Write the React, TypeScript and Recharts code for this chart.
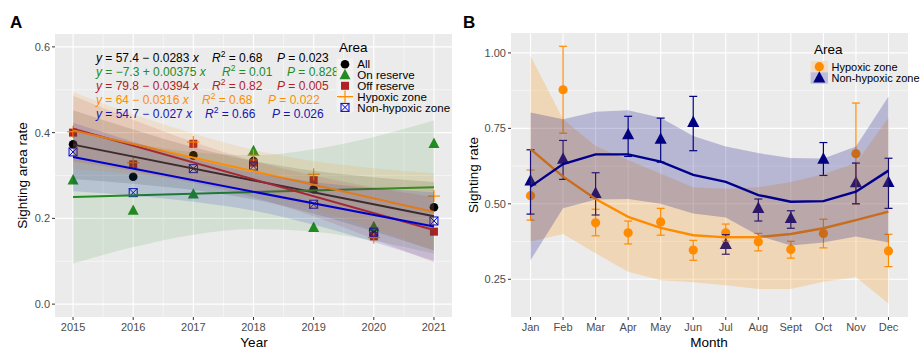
import React from 'react';
import { ComposedChart, Scatter, Line, Area, XAxis, YAxis, CartesianGrid, ErrorBar } from 'recharts';

// ---------- Panel A data ----------
const years = [2015, 2016, 2017, 2018, 2019, 2020, 2021];
const yearTicks = [2015, 2016, 2017, 2018, 2019, 2020, 2021];
const yearMinor = [2015.5, 2016.5, 2017.5, 2018.5, 2019.5, 2020.5];
const rateTicksA = [0, 0.2, 0.4, 0.6];
const rateMinorA = [0.1, 0.3, 0.5];

const allRate = [0.373, 0.297, 0.347, 0.334, 0.268, 0.161, 0.226];
const onRate = [0.289, 0.218, 0.256, 0.357, 0.178, 0.18, 0.374];
const offRate = [0.4, 0.326, 0.374, 0.33, 0.289, 0.158, 0.169];
const hypRate = [0.402, 0.33, 0.378, 0.347, 0.303, 0.155, 0.252];
const nonRate = [0.355, 0.26, 0.316, 0.322, 0.233, 0.168, 0.194];

const fitYears = [2015, 2021];
const allFit = [0.372, 0.205];
const onFit = [0.25, 0.2725];
const offFit = [0.409, 0.173];
const hypFit = [0.405, 0.215];
const nonFit = [0.343, 0.181];

const allLo = [0.292, 0.281, 0.266, 0.244, 0.211, 0.17, 0.125];
const allHi = [0.452, 0.407, 0.366, 0.334, 0.311, 0.296, 0.285];
const onLo = [0.095, 0.133, 0.162, 0.175, 0.169, 0.148, 0.118];
const onHi = [0.405, 0.375, 0.354, 0.347, 0.361, 0.39, 0.428];
const offLo = [0.333, 0.31, 0.283, 0.249, 0.205, 0.152, 0.097];
const offHi = [0.486, 0.43, 0.378, 0.334, 0.3, 0.272, 0.25];
const hypLo = [0.315, 0.303, 0.286, 0.26, 0.222, 0.177, 0.125];
const hypHi = [0.495, 0.443, 0.398, 0.36, 0.334, 0.317, 0.305];
const nonLo = [0.263, 0.253, 0.239, 0.218, 0.185, 0.145, 0.101];
const nonHi = [0.423, 0.379, 0.339, 0.307, 0.285, 0.271, 0.261];

// ---------- Panel B data ----------
const months = [1, 2, 3, 4, 5, 6, 7, 8, 9, 10, 11, 12];
const monthLabels = ['Jan', 'Feb', 'Mar', 'Apr', 'May', 'Jun', 'Jul', 'Aug', 'Sept', 'Oct', 'Nov', 'Dec'];
const rateTicksB = [0.25, 0.5, 0.75, 1.0];
const rateMinorB = [0.375, 0.625, 0.875];

const hypMean = [0.527, 0.878, 0.437, 0.404, 0.44, 0.347, 0.404, 0.374, 0.349, 0.402, 0.666, 0.344];
const hypErrLo = [0.446, 0.734, 0.394, 0.367, 0.396, 0.313, 0.376, 0.344, 0.32, 0.354, 0.5, 0.292];
const hypErrHi = [0.612, 1.022, 0.482, 0.443, 0.485, 0.379, 0.433, 0.402, 0.376, 0.449, 0.834, 0.399];
const nonMean = [0.576, 0.648, 0.535, 0.729, 0.714, 0.77, 0.366, 0.485, 0.452, 0.648, 0.57, 0.571];
const nonErrLo = [0.466, 0.581, 0.463, 0.657, 0.638, 0.676, 0.333, 0.443, 0.419, 0.594, 0.5, 0.485];
const nonErrHi = [0.679, 0.71, 0.603, 0.79, 0.784, 0.856, 0.398, 0.516, 0.477, 0.703, 0.635, 0.651];

const hypSmooth = [0.681, 0.59, 0.516, 0.457, 0.42, 0.396, 0.389, 0.39, 0.4, 0.419, 0.446, 0.474];
const nonSmooth = [0.557, 0.632, 0.664, 0.664, 0.64, 0.596, 0.573, 0.529, 0.507, 0.509, 0.54, 0.61];
const hypBandLo = [0.375, 0.4, 0.336, 0.275, 0.247, 0.24, 0.23, 0.218, 0.218, 0.242, 0.257, 0.17];
const hypBandHi = [0.99, 0.78, 0.692, 0.645, 0.6, 0.555, 0.55, 0.555, 0.572, 0.598, 0.635, 0.785];
const nonBandLo = [0.313, 0.485, 0.514, 0.516, 0.5, 0.468, 0.455, 0.395, 0.362, 0.372, 0.392, 0.372];
const nonBandHi = [0.803, 0.78, 0.805, 0.81, 0.785, 0.725, 0.69, 0.668, 0.652, 0.65, 0.69, 0.856];

// ---------- colours ----------
const C_ALL = '#000000';
const C_ON = '#228B22';
const C_OFF = '#B22222';
const C_HYP = '#FF8C00';
const C_NON = '#0000CD';
const C_NAVY = '#000080';

const fitAt = (arr: number[], year: number) =>
  year === fitYears[0] ? arr[0] : year === fitYears[1] ? arr[1] : null;

const tableA = years.map((year, i) => ({
  year,
  all: allRate[i],
  on: onRate[i],
  off: offRate[i],
  hyp: hypRate[i],
  non: nonRate[i],
  allBand: [allLo[i], allHi[i]],
  onBand: [onLo[i], onHi[i]],
  offBand: [offLo[i], offHi[i]],
  hypBand: [hypLo[i], hypHi[i]],
  nonBand: [nonLo[i], nonHi[i]],
  allFit: fitAt(allFit, year),
  onFit: fitAt(onFit, year),
  offFit: fitAt(offFit, year),
  hypFit: fitAt(hypFit, year),
  nonFit: fitAt(nonFit, year),
}));

const tableB = months.map((m, i) => ({
  m,
  hyp: hypMean[i],
  hypErr: [hypMean[i] - hypErrLo[i], hypErrHi[i] - hypMean[i]],
  non: nonMean[i],
  nonErr: [nonMean[i] - nonErrLo[i], nonErrHi[i] - nonMean[i]],
  hypS: hypSmooth[i],
  nonS: nonSmooth[i],
  hypBand: [hypBandLo[i], hypBandHi[i]],
  nonBand: [nonBandLo[i], nonBandHi[i]],
}));

// ---------- shapes ----------
const ok = (p: any) => typeof p.cx === 'number' && typeof p.cy === 'number' && !isNaN(p.cx) && !isNaN(p.cy);
const circleShape = (color: string, r: number) => (p: any) =>
  ok(p) ? <circle cx={p.cx} cy={p.cy} r={r} fill={color} /> : <g />;
const triShape = (color: string, s: number) => (p: any) =>
  ok(p) ? (
    <polygon
      points={`${p.cx},${p.cy - s * 0.62} ${p.cx - s * 0.55},${p.cy + s * 0.42} ${p.cx + s * 0.55},${p.cy + s * 0.42}`}
      fill={color}
    />
  ) : <g />;
const squareShape = (color: string, s: number) => (p: any) =>
  ok(p) ? <rect x={p.cx - s / 2} y={p.cy - s / 2} width={s} height={s} fill={color} /> : <g />;
const plusShape = (color: string, s: number) => (p: any) =>
  ok(p) ? (
    <g stroke={color} strokeWidth={1.2}>
      <line x1={p.cx - s / 2} y1={p.cy} x2={p.cx + s / 2} y2={p.cy} />
      <line x1={p.cx} y1={p.cy - s / 2} x2={p.cx} y2={p.cy + s / 2} />
    </g>
  ) : <g />;
const boxXShape = (color: string, s: number) => (p: any) =>
  ok(p) ? (
    <g stroke={color} strokeWidth={1} fill="none">
      <rect x={p.cx - s / 2} y={p.cy - s / 2} width={s} height={s} />
      <line x1={p.cx - s / 2} y1={p.cy - s / 2} x2={p.cx + s / 2} y2={p.cy + s / 2} />
      <line x1={p.cx - s / 2} y1={p.cy + s / 2} x2={p.cx + s / 2} y2={p.cy - s / 2} />
    </g>
  ) : <g />;

const tickStyle = { fill: '#4D4D4D', fontSize: 11 };
const FONT = '"Liberation Sans", Arial, Helvetica, sans-serif';

function PanelA() {
  const bandOp = 0.12;
  const z: any = (n: number) => ({ zIndex: n });
  return (
    <ComposedChart width={460} height={350} data={tableA} margin={{ top: 34, right: 8, bottom: 8, left: 10 }}>
      <CartesianGrid horizontalValues={rateMinorA} verticalValues={yearMinor} stroke="#FFFFFF" strokeWidth={0.5} fill="#EBEBEB" />
      <CartesianGrid horizontalValues={rateTicksA} verticalValues={yearTicks} stroke="#FFFFFF" strokeWidth={1.1} />
      <XAxis
        dataKey="year"
        type="number"
        domain={[2014.7, 2021.3]}
        ticks={yearTicks}
        allowDataOverflow
        interval={0}
        axisLine={false}
        tickLine={{ stroke: '#333333' }}
        tickSize={3}
        tickMargin={3}
        tick={tickStyle}
        height={25}
      />
      <YAxis
        type="number"
        domain={[-0.03, 0.63]}
        ticks={rateTicksA}
        allowDataOverflow
        interval={0}
        axisLine={false}
        tickLine={{ stroke: '#333333' }}
        tickSize={3}
        tickMargin={2}
        tick={tickStyle}
        tickFormatter={(v: number) => v.toFixed(1)}
        width={45}
      />
      <Scatter {...z(50)} dataKey="all" fill={C_ALL} shape={circleShape(C_ALL, 4.3)} isAnimationActive={false} />
      <Scatter {...z(51)} dataKey="on" fill={C_ON} shape={triShape(C_ON, 10)} isAnimationActive={false} />
      <Scatter {...z(52)} dataKey="off" fill={C_OFF} shape={squareShape(C_OFF, 8)} isAnimationActive={false} />
      <Scatter {...z(53)} dataKey="hyp" fill={C_HYP} shape={plusShape(C_HYP, 12)} isAnimationActive={false} />
      <Scatter {...z(54)} dataKey="non" fill={C_NON} shape={boxXShape(C_NON, 8)} isAnimationActive={false} />

      <Area {...z(100)} dataKey="allBand" type="monotone" stroke="none" fill={C_ALL} fillOpacity={bandOp} dot={false} activeDot={false} isAnimationActive={false} />
      <Line {...z(101)} dataKey="allFit" type="linear" stroke="#1a1a1a" strokeWidth={2} dot={false} activeDot={false} connectNulls isAnimationActive={false} />
      <Area {...z(102)} dataKey="onBand" type="monotone" stroke="none" fill={C_ON} fillOpacity={bandOp} dot={false} activeDot={false} isAnimationActive={false} />
      <Line {...z(103)} dataKey="onFit" type="linear" stroke={C_ON} strokeWidth={2} dot={false} activeDot={false} connectNulls isAnimationActive={false} />
      <Area {...z(104)} dataKey="offBand" type="monotone" stroke="none" fill={C_OFF} fillOpacity={bandOp} dot={false} activeDot={false} isAnimationActive={false} />
      <Line {...z(105)} dataKey="offFit" type="linear" stroke={C_OFF} strokeWidth={2} dot={false} activeDot={false} connectNulls isAnimationActive={false} />
      <Area {...z(106)} dataKey="hypBand" type="monotone" stroke="none" fill={C_HYP} fillOpacity={bandOp} dot={false} activeDot={false} isAnimationActive={false} />
      <Line {...z(107)} dataKey="hypFit" type="linear" stroke={C_HYP} strokeWidth={2} dot={false} activeDot={false} connectNulls isAnimationActive={false} />
      <Area {...z(108)} dataKey="nonBand" type="monotone" stroke="none" fill={C_NON} fillOpacity={bandOp} dot={false} activeDot={false} isAnimationActive={false} />
      <Line {...z(109)} dataKey="nonFit" type="linear" stroke={C_NON} strokeWidth={2} dot={false} activeDot={false} connectNulls isAnimationActive={false} />
    </ComposedChart>
  );
}

function PanelB() {
  const bandOp = 0.22;
  const z: any = (n: number) => ({ zIndex: n });
  return (
    <ComposedChart width={460} height={350} data={tableB} margin={{ top: 33, right: 12, bottom: 8, left: 5 }}>
      <CartesianGrid horizontalValues={rateMinorB} vertical={false} stroke="#FFFFFF" strokeWidth={0.5} fill="#EBEBEB" />
      <CartesianGrid horizontalValues={rateTicksB} verticalValues={months} stroke="#FFFFFF" strokeWidth={1.1} />
      <XAxis
        dataKey="m"
        type="number"
        domain={[0.4, 12.6]}
        ticks={months}
        allowDataOverflow
        interval={0}
        axisLine={false}
        tickLine={{ stroke: '#333333' }}
        tickSize={3}
        tickMargin={3}
        tick={tickStyle}
        tickFormatter={(v: number) => monthLabels[v - 1]}
        height={25}
      />
      <YAxis
        type="number"
        domain={[0.125, 1.066]}
        ticks={rateTicksB}
        allowDataOverflow
        interval={0}
        axisLine={false}
        tickLine={{ stroke: '#333333' }}
        tickSize={3}
        tickMargin={2}
        tick={tickStyle}
        tickFormatter={(v: number) => v.toFixed(2)}
        width={46}
      />
      <Scatter {...z(50)} dataKey="hyp" fill={C_HYP} shape={circleShape(C_HYP, 4.6)} isAnimationActive={false}>
        <ErrorBar {...z(60)} dataKey="hypErr" direction="y" width={4} stroke={C_HYP} strokeWidth={1.2} />
      </Scatter>
      <Scatter {...z(51)} dataKey="non" fill={C_NAVY} shape={triShape(C_NAVY, 11)} isAnimationActive={false}>
        <ErrorBar {...z(61)} dataKey="nonErr" direction="y" width={4} stroke={C_NAVY} strokeWidth={1.2} />
      </Scatter>
      <Area {...z(100)} dataKey="hypBand" type="linear" stroke="none" fill={C_HYP} fillOpacity={bandOp} dot={false} activeDot={false} isAnimationActive={false} />
      <Line {...z(101)} dataKey="hypS" type="linear" stroke={C_HYP} strokeWidth={2.4} dot={false} activeDot={false} isAnimationActive={false} />
      <Area {...z(102)} dataKey="nonBand" type="linear" stroke="none" fill={C_NAVY} fillOpacity={bandOp} dot={false} activeDot={false} isAnimationActive={false} />
      <Line {...z(103)} dataKey="nonS" type="linear" stroke="#00008B" strokeWidth={2.4} dot={false} activeDot={false} isAnimationActive={false} />
    </ComposedChart>
  );
}

const eqRows = [
  { color: C_ALL, eq: ' = 57.4 − 0.0283 ', r2: ' = 0.68', p: ' = 0.023', rx: 212, px: 277 },
  { color: C_ON, eq: ' = −7.3 + 0.00375 ', r2: ' = 0.01', p: ' = 0.828', rx: 222, px: 287 },
  { color: C_OFF, eq: ' = 79.8 − 0.0394 ', r2: ' = 0.82', p: ' = 0.005', rx: 212, px: 277 },
  { color: C_HYP, eq: ' = 64 − 0.0316 ', r2: ' = 0.68', p: ' = 0.022', rx: 202, px: 268 },
  { color: '#1515B0', eq: ' = 54.7 − 0.027 ', r2: ' = 0.66', p: ' = 0.026', rx: 205, px: 272 },
];

const legendA = ['All', 'On reserve', 'Off reserve', 'Hypoxic zone', 'Non-hypoxic zone'];
const legendB = ['Hypoxic zone', 'Non-hypoxic zone'];

function Overlay() {
  const lx = 345;
  const rowsA = [64.2, 75, 85.8, 96.6, 107.4];
  const bx = 819.3;
  const rowsB = [66.7, 78];
  return (
    <svg width={920} height={350} style={{ position: 'absolute', left: 0, top: 0, pointerEvents: 'none', fontFamily: FONT }}>
      <text x={10} y={28} fontSize={17} fontWeight="bold" fill="#000">A</text>
      <text x={463} y={28} fontSize={17} fontWeight="bold" fill="#000">B</text>
      <text x={254} y={347} fontSize={13.5} textAnchor="middle" fill="#000">Year</text>
      <text x={709} y={347} fontSize={13.5} textAnchor="middle" fill="#000">Month</text>
      <text x={0} y={0} fontSize={13.5} textAnchor="middle" fill="#000" transform="translate(27,175.5) rotate(-90)">Sighting area rate</text>
      <text x={0} y={0} fontSize={13.5} textAnchor="middle" fill="#000" transform="translate(478,175) rotate(-90)">Sighting rate</text>

      {eqRows.map((r, i) => {
        const by = 61.6 + i * 14;
        return (
          <g key={i} fill={r.color} fontSize={12}>
            <text x={96} y={by} xmlSpace="preserve">
              <tspan fontStyle="italic">y</tspan>
              <tspan>{r.eq}</tspan>
              <tspan fontStyle="italic">x</tspan>
            </text>
            <text x={r.rx} y={by} xmlSpace="preserve">
              <tspan fontStyle="italic">R</tspan>
              <tspan fontSize={8.5} dy={-4.5}>2</tspan>
              <tspan dy={4.5}>{r.r2}</tspan>
            </text>
            <text x={r.px} y={by} xmlSpace="preserve">
              <tspan fontStyle="italic">P</tspan>
              <tspan>{r.p}</tspan>
            </text>
          </g>
        );
      })}

      <text x={339} y={51.5} fontSize={13.5} fill="#000">Area</text>
      {rowsA.map((cy, i) => (
        <rect key={'k' + i} x={lx - 8.5} y={cy - 5.4} width={17} height={10.8} fill="#F2F2F2" />
      ))}
      {circleShape(C_ALL, 4.3)({ cx: lx, cy: rowsA[0] })}
      {triShape(C_ON, 10)({ cx: lx, cy: rowsA[1] })}
      {squareShape(C_OFF, 8)({ cx: lx, cy: rowsA[2] })}
      <line x1={lx - 8} y1={rowsA[3]} x2={lx + 8} y2={rowsA[3]} stroke={C_HYP} strokeWidth={1.2} />
      {plusShape(C_HYP, 12)({ cx: lx, cy: rowsA[3] })}
      {boxXShape(C_NON, 8)({ cx: lx, cy: rowsA[4] })}
      {legendA.map((t, i) => (
        <text key={'t' + i} x={357.3} y={rowsA[i] + 4.1} fontSize={11.6} fill="#000">{t}</text>
      ))}

      <text x={814} y={53.5} fontSize={13.5} fill="#000">Area</text>
      <rect x={bx - 8.7} y={rowsB[0] - 5.7} width={17.4} height={11.4} fill="#F2F2F2" />
      <rect x={bx - 8.7} y={rowsB[0] - 5.7} width={17.4} height={11.4} fill={C_HYP} fillOpacity={0.22} />
      <rect x={bx - 8.7} y={rowsB[1] - 5.7} width={17.4} height={11.4} fill="#F2F2F2" />
      <rect x={bx - 8.7} y={rowsB[1] - 5.7} width={17.4} height={11.4} fill={C_NAVY} fillOpacity={0.22} />
      {circleShape(C_HYP, 4.6)({ cx: bx, cy: rowsB[0] })}
      {triShape(C_NAVY, 11)({ cx: bx, cy: rowsB[1] })}
      {legendB.map((t, i) => (
        <text key={'b' + i} x={831.5} y={rowsB[i] + 4.1} fontSize={11} fill="#000">{t}</text>
      ))}
    </svg>
  );
}

export default function App() {
  return (
    <div style={{ position: 'absolute', left: 0, top: 0, width: 920, height: 350, background: '#FFFFFF', fontFamily: FONT, overflow: 'hidden' }}>
      <div style={{ position: 'absolute', left: 0, top: 0 }}>
        <PanelA />
      </div>
      <div style={{ position: 'absolute', left: 460, top: 0 }}>
        <PanelB />
      </div>
      <Overlay />
    </div>
  );
}
